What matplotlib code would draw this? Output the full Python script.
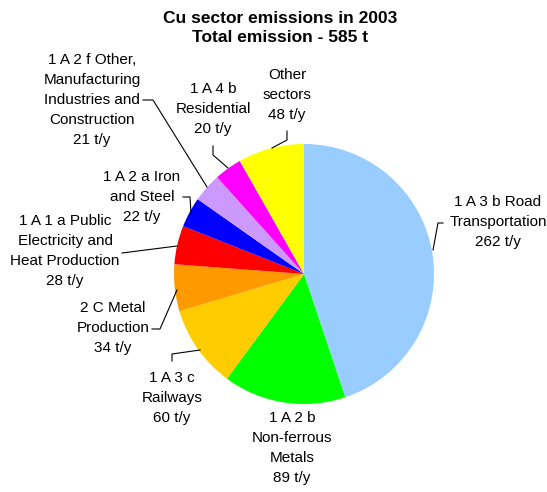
import matplotlib.pyplot as plt

plt.rcParams['font.family'] = ['Liberation Sans', 'DejaVu Sans']

# emissions by sector, t/y, clockwise from 12 o'clock
sectors = ['1 A 3 b Road\nTransportation', '1 A 2 b\nNon-ferrous\nMetals', '1 A 3 c\nRailways',
           '2 C Metal\nProduction', '1 A 1 a Public\nElectricity and\nHeat Production',
           '1 A 2 a Iron\nand Steel', '1 A 2 f Other,\nManufacturing\nIndustries and\nConstruction',
           '1 A 4 b\nResidential', 'Other\nsectors']
values = [262, 89, 60, 34, 28, 22, 21, 20, 48]
colors = ['#99CCFF', '#00FF00', '#FFCC00', '#FF9900', '#FF0000',
          '#0000FF', '#CC99FF', '#FF00FF', '#FFFF00']
total = 585
year = 2003

W, H = 547, 492

# label centres and leader lines, in pixel units (y measured from the top)
label_pos = [(498, 222), (292, 448), (172, 398), (113, 328), (65, 251),
             (142, 197), (92, 100), (213, 109), (287, 95)]
leaders = [
    [(443, 223), (438, 223), (433, 250)],
    None,
    [(172, 361), (172, 354), (200, 350)],
    [(152, 329), (160, 329), (177, 290)],
    [(122, 253), (177, 246)],
    [(183, 197), (190, 197), (191, 213)],
    [(143, 100), (153, 100), (207, 187)],
    [(213, 146), (213, 155), (228, 168)],
    [(287, 131), (287, 140), (272, 148)],
]

fig = plt.figure(figsize=(W / 100, H / 100), dpi=100)
ax = fig.add_axes([0, 0, 1, 1])

ax.pie(values, colors=colors, startangle=90, counterclock=False,
       center=(304, H - 274), radius=130, frame=True)
ax.set_xlim(0, W)
ax.set_ylim(0, H)
ax.axis('off')

for name, val, (x, y), pts in zip(sectors, values, label_pos, leaders):
    ax.text(x, H - y, f'{name}\n{val} t/y', ha='center', va='center',
            fontsize=11, linespacing=1.55)
    if pts:
        ax.plot([p[0] for p in pts], [H - p[1] for p in pts], color='black', lw=0.8)

ax.text(280, H - 28, f'Cu sector emissions in {year}\nTotal emission - {total} t',
        ha='center', va='center', fontsize=12.5, fontweight='bold', linespacing=1.27)

fig.savefig('out.png', dpi=100)
plt.close()
